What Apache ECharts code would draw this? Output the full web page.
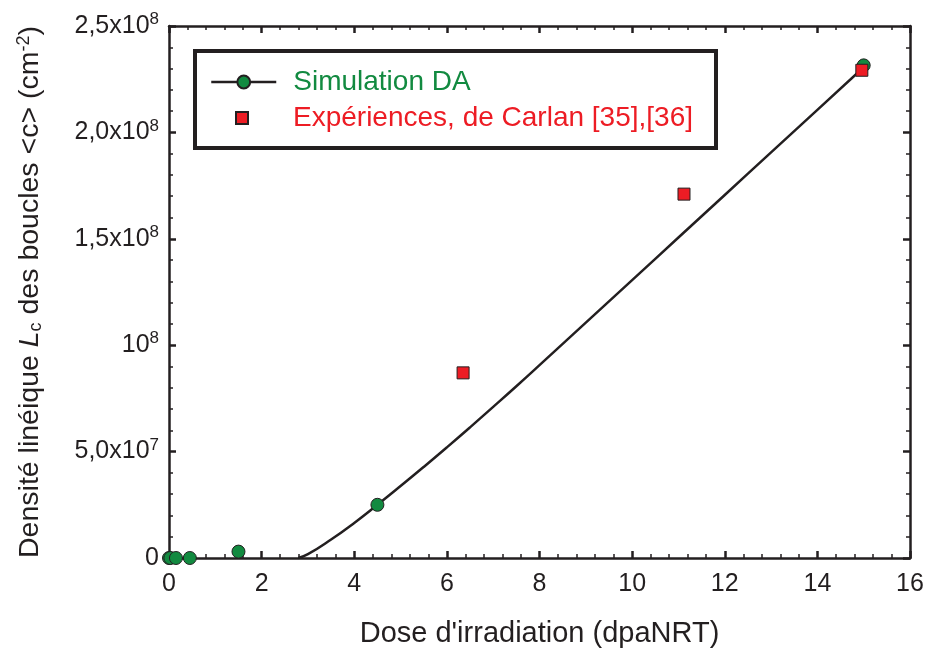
<!DOCTYPE html>
<html>
<head>
<meta charset="utf-8">
<script src="https://cdn.jsdelivr.net/npm/echarts@6/dist/echarts.min.js"></script>
<style>
  html, body { margin: 0; padding: 0; background: #fff; }
  #chart { width: 926px; height: 648px; }
</style>
</head>
<body>
<div id="chart"></div>
<script>
// points de la simulation DA (dose dpaNRT, densité cm^-2)
const simDose = [0, 0.03, 0.15, 0.45, 1.5, 4.5, 15];
const simDensity = [0, 0, 0, 0, 3.0e6, 2.5e7, 2.315e8];

// courbe d'ajustement
const fitDose = [2.79, 3.0, 3.5, 4.0, 4.5, 5.0, 5.5, 6.0, 6.5, 7.0, 7.5, 8, 9, 10, 11, 12, 13, 14, 14.9];
const fitDensity = [0, 1.8e6, 8.7e6, 1.65e7, 2.5e7, 3.38e7, 4.28e7, 5.2e7, 6.14e7, 7.1e7, 8.07e7,
  9.06e7, 1.106e8, 1.306e8, 1.506e8, 1.706e8, 1.906e8, 2.106e8, 2.286e8];

// expériences de Carlan
const expDose = [6.35, 11.12, 14.96];
const expDensity = [8.7e7, 1.71e8, 2.292e8];

// étiquettes de l'axe Y
const yTickValues = [0, 5e7, 1e8, 1.5e8, 2e8, 2.5e8];
const yTickBase = ['0', '5,0x10', '10', '1,5x10', '2,0x10', '2,5x10'];
const yTickExp = ['', '7', '8', '8', '8', '8'];

const FONT = '"Liberation Sans", Arial, sans-serif';
const BLACK = '#231f20';
const GREEN = '#128a40';
const RED = '#ed1c24';

const chart = echarts.init(document.getElementById('chart'), null, { renderer: 'canvas' });

const zip = (xs, ys) => xs.map((x, i) => [x, ys[i]]);

const axisLine = { show: true, onZero: false, lineStyle: { color: BLACK, width: 2.5 } };
const axisTick = { show: true, inside: true, length: 7, lineStyle: { color: BLACK, width: 2.5 } };
const minorTick = { show: true, splitNumber: 5, length: 4, lineStyle: { color: BLACK, width: 1.5 } };

const xBase = {
  type: 'value', min: 0, max: 16, interval: 2,
  axisLine: axisLine, axisTick: axisTick, minorTick: minorTick,
  splitLine: { show: false }
};
const yBase = {
  type: 'value', min: 0, max: 2.5e8, interval: 5e7,
  axisLine: axisLine, axisTick: axisTick, minorTick: minorTick,
  splitLine: { show: false }
};

const option = {
  animation: false,
  backgroundColor: '#fff',
  textStyle: { fontFamily: FONT },
  grid: { left: 169, right: 16, top: 26, bottom: 90, containLabel: false, outerBoundsMode: 'none' },
  xAxis: [
    Object.assign({}, xBase, {
      position: 'bottom',
      name: "Dose d'irradiation (dpaNRT)",
      nameLocation: 'middle',
      nameGap: 61,
      nameTextStyle: { fontFamily: FONT, fontSize: 29, color: BLACK },
      axisLabel: { margin: 14, fontFamily: FONT, fontSize: 25, color: BLACK }
    }),
    Object.assign({}, xBase, { position: 'top', axisLabel: { show: false } })
  ],
  yAxis: [
    Object.assign({}, yBase, {
      position: 'left',
      name: 'Densité linéique {i|L}{sub|c} des boucles <c> (cm{sup|-2})',
      nameLocation: 'middle',
      nameRotate: 90,
      nameGap: 124,
      nameTextStyle: {
        fontFamily: FONT, fontSize: 28.5, color: BLACK,
        rich: {
          i: { fontFamily: FONT, fontSize: 28.5, fontStyle: 'italic', color: BLACK },
          sub: { fontFamily: FONT, fontSize: 18, color: BLACK, padding: [12, 0, 0, 0] },
          sup: { fontFamily: FONT, fontSize: 18, color: BLACK, padding: [0, 0, 12, 0] }
        }
      },
      axisLabel: {
        margin: 10,
        fontFamily: FONT, fontSize: 25, color: BLACK,
        formatter: function (v) {
          const i = yTickValues.findIndex(t => Math.abs(t - v) < 1);
          if (i < 0) return '';
          if (!yTickExp[i]) return '{b|' + yTickBase[i] + '}';
          return '{b|' + yTickBase[i] + '}{s|' + yTickExp[i] + '}';
        },
        rich: {
          b: { fontFamily: FONT, fontSize: 25, color: BLACK },
          s: { fontFamily: FONT, fontSize: 17, color: BLACK, padding: [0, 0, 13, 0] }
        }
      }
    }),
    Object.assign({}, yBase, { position: 'right', axisLabel: { show: false } })
  ],
  legend: [
    {
      left: 210, top: 67, padding: 0, orient: 'vertical',
      itemWidth: 65, itemHeight: 16, selectedMode: false,
      data: [{
        name: 'Simulation DA',
        lineStyle: { color: BLACK, width: 2.5, opacity: 1 },
        textStyle: { color: GREEN }
      }],
      textStyle: { fontFamily: FONT, fontSize: 28, lineHeight: 30, padding: [0, 0, 0, 12] }
    },
    {
      left: 235, top: 103, padding: 0, orient: 'vertical',
      itemWidth: 12, itemHeight: 12, selectedMode: false,
      data: [{ name: 'Expériences, de Carlan [35],[36]', textStyle: { color: RED } }],
      textStyle: { fontFamily: FONT, fontSize: 28, lineHeight: 30, padding: [0, 0, 0, 40] }
    }
  ],
  graphic: [{
    type: 'rect',
    shape: { x: 195, y: 51, width: 521, height: 97 },
    style: { fill: 'none', stroke: BLACK, lineWidth: 4 },
    z: 10
  }],
  series: [
    {
      name: 'ajustement',
      type: 'line',
      smooth: true,
      showSymbol: false,
      symbol: 'none',
      data: zip(fitDose, fitDensity),
      lineStyle: { color: BLACK, width: 2.5 },
      z: 2
    },
    {
      name: 'Simulation DA',
      type: 'line',
      symbol: 'circle',
      symbolSize: 13,
      data: zip(simDose, simDensity),
      lineStyle: { opacity: 0 },
      itemStyle: { color: GREEN, borderColor: BLACK, borderWidth: 1, opacity: 1 },
      z: 3
    },
    {
      name: 'Expériences, de Carlan [35],[36]',
      type: 'scatter',
      symbol: 'rect',
      symbolSize: 12,
      data: zip(expDose, expDensity),
      itemStyle: { color: RED, borderColor: BLACK, borderWidth: 1, opacity: 1 },
      z: 4
    }
  ]
};

chart.setOption(option);
</script>
</body>
</html>
